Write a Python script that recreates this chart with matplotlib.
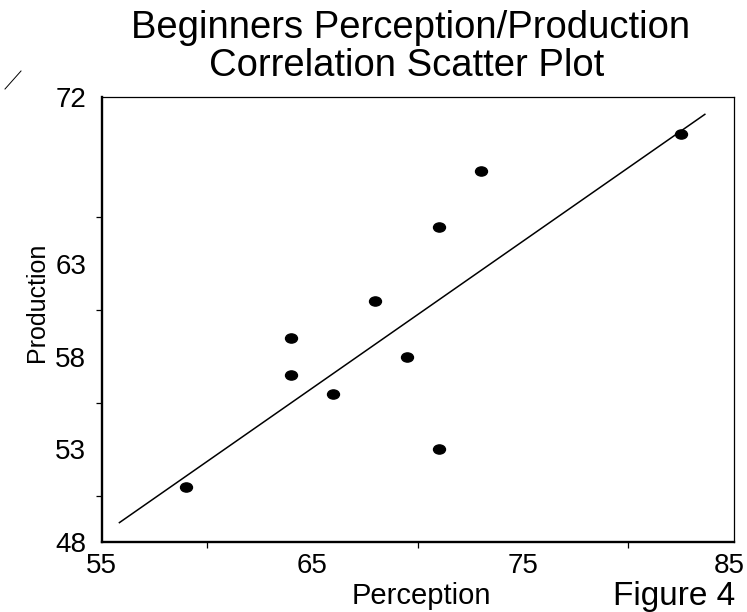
import matplotlib
matplotlib.use("Agg")
import matplotlib.pyplot as plt
from matplotlib.path import Path
from matplotlib.transforms import Affine2D, ScaledTranslation
from matplotlib.lines import Line2D

plt.rcParams['font.family'] = ['Liberation Sans', 'DejaVu Sans']

# Data
perception = [59, 64, 64, 66, 68, 69.5, 71, 71, 73, 82.5]
production = [51, 59, 57, 56, 61, 58, 65, 53, 68, 70]

# regression line ends as drawn in the reference
fit_x = [55.85, 83.64]
fit_y = [49.06, 71.05]

x_ticks = [55, 65, 75, 85]
x_minor = [60, 70, 80]
y_ticks = [48, 53, 58, 63, 72]
y_minor = [50.5, 55.5, 60.5, 65.5]

W, H = 747, 612
fig = plt.figure(figsize=(W / 100, H / 100), dpi=100)
ax = fig.add_axes([101.5 / W, 1 - 542.3 / H, 632 / W, 445.6 / H])

# slightly flattened dots
ell = Path.unit_circle().transformed(Affine2D().scale(1.3, 1.0))
ax.plot(perception, production, ls='none', marker=ell, ms=8.6, color='black')
ax.plot(fit_x, fit_y, color='black', lw=1.1)

ax.set_xlim(55, 85)
ax.set_ylim(48, 72)

ax.set_xticks(x_ticks)
ax.set_xticks(x_minor, minor=True)
ax.set_yticks(y_ticks)
ax.set_yticks(y_minor, minor=True)
ax.tick_params(which='major', length=0, labelsize=20)
ax.tick_params(axis='x', which='major', pad=8)
ax.tick_params(axis='y', which='major', pad=11)
ax.tick_params(which='minor', length=4.5, width=0.9, direction='out')

# keep the last x label inside the figure
last = ax.get_xticklabels()[-1]
last.set_transform(last.get_transform() + ScaledTranslation(-4 / 100, 0, fig.dpi_scale_trans))

for side in ['left', 'bottom']:
    ax.spines[side].set_linewidth(1.7)
for side in ['top', 'right']:
    ax.spines[side].set_linewidth(0.9)

# title, two lines placed separately
fig.text(411 / W, 1 - 38 / H, "Beginners Perception/Production", ha='center', va='baseline', fontsize=27.5)
fig.text(407 / W, 1 - 76 / H, "Correlation Scatter Plot", ha='center', va='baseline', fontsize=27.5)

fig.text(37 / W, 1 - 302 / H, "Production", rotation=90, ha='center', va='center', fontsize=18)
fig.text(421 / W, 1 - 604 / H, "Perception", ha='center', va='baseline', fontsize=21)
fig.text(735 / W, 1 - 605 / H, "Figure 4", ha='right', va='baseline', fontsize=24)

# small stray stroke in the top-left corner
fig.add_artist(Line2D([5 / W, 21 / W], [1 - 89 / H, 1 - 71 / H], color='black', lw=0.7))

fig.savefig("out.png", dpi=100)
